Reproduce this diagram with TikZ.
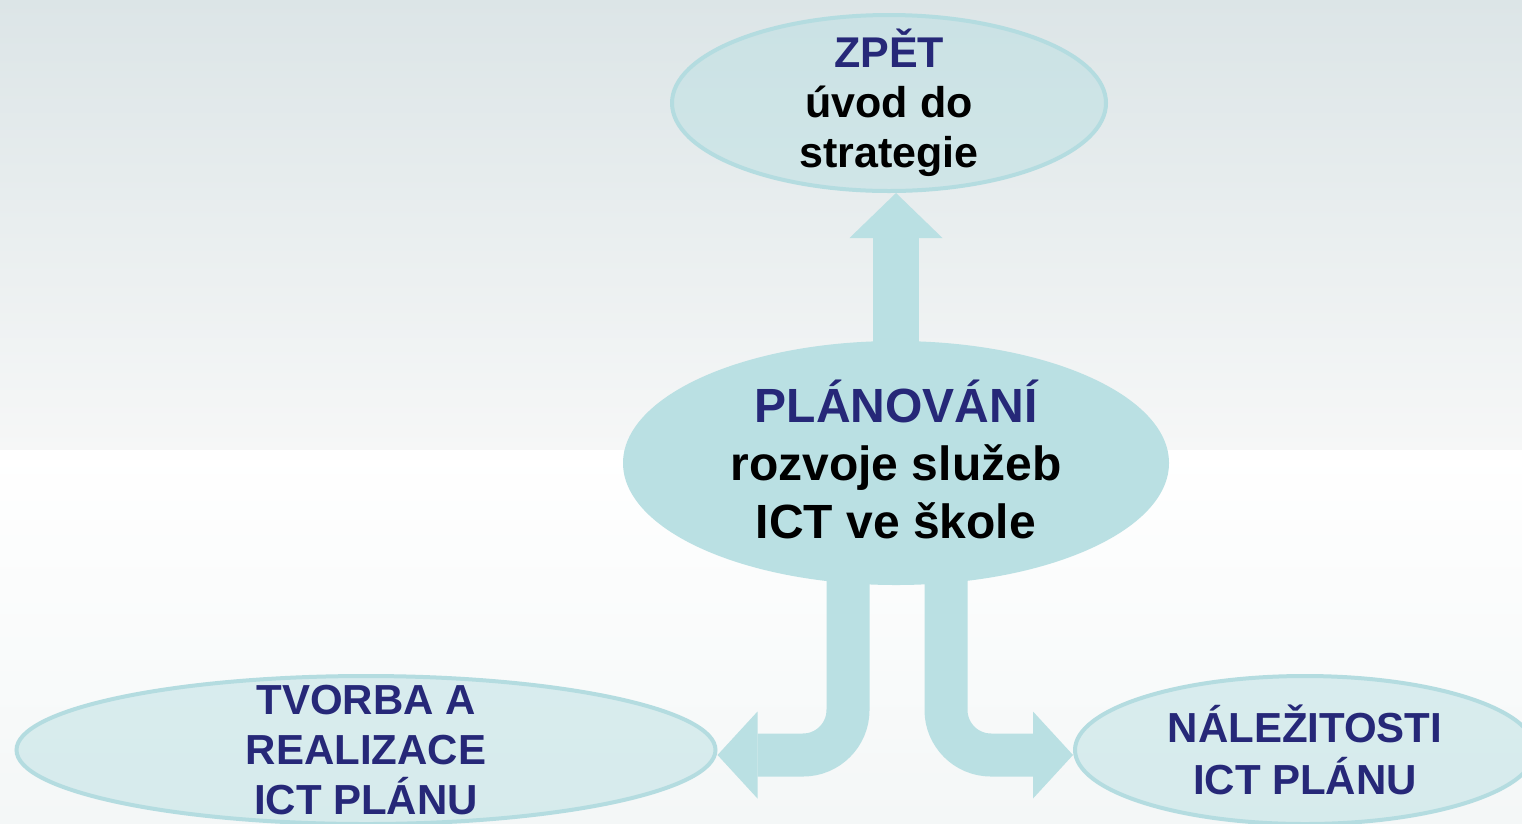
\documentclass[tikz,border=0pt]{standalone}
\usepackage{fontspec}
\setmainfont{Liberation Sans}
\usetikzlibrary{shapes.geometric,arrows.meta,positioning}
\definecolor{tealfill}{HTML}{BAE0E3}
\definecolor{tealline}{HTML}{B4DCE0}
\definecolor{navy}{HTML}{262878}
\definecolor{bgtop}{HTML}{DCE5E7}
\definecolor{bgmid}{HTML}{F6F7F7}
\definecolor{bglow}{HTML}{F4F7F7}
\pgfdeclarelayer{back}
\pgfdeclarelayer{arrows}
\pgfsetlayers{back,arrows,main}
\tikzstyle{centre}=[ellipse, fill=tealfill, minimum width=546pt,
    minimum height=244pt, inner sep=0pt]
\tikzstyle{dotted_oval}=[ellipse, draw=tealline, line width=4pt,
    fill=tealfill, fill opacity=0.5, inner sep=0pt]
\tikzstyle{big_text}=[align=center, font=\fontsize{48}{58}\selectfont\bfseries]
\tikzstyle{small_text}=[align=center, font=\fontsize{43}{50}\selectfont\bfseries]
\tikzstyle{up_arrow}=[draw=tealfill, line width=46pt,
    -{Triangle[width=93pt,length=45pt,line width=0pt]}]
\tikzstyle{bent_arrow}=[draw=tealfill, line width=43pt, rounded corners=45pt,
    -{Triangle[width=87pt,length=40pt,line width=0pt]}]

\begin{document}
\begin{tikzpicture}[x=1pt,y=-1pt]
    \useasboundingbox (0,0) rectangle (1522,823);
    \node (plan) [centre] at (896,463) {};
    \node (plan_txt) [big_text] at ([yshift=4pt]plan.center)
    {\textcolor{navy}{PLÁNOVÁNÍ}\\rozvoje služeb\\ICT ve škole};
    \path (plan.center)+(-7,-360) node (zpet) [dotted_oval,
        minimum width=434pt, minimum height=176pt] {};
    \path (plan.center)+(-530,287) node (tvorba) [dotted_oval,
        minimum width=699pt, minimum height=148pt] {};
    \path (plan.center)+(409,287) node (nalez) [dotted_oval,
        minimum width=460pt, minimum height=148pt] {};
    \node (zpet_txt) [small_text] at (zpet.center)
    {\textcolor{navy}{ZPĚT}\\úvod do\\strategie};
    \node (tvorba_txt) [small_text, text=navy, font=\fontsize{42}{50}\selectfont\bfseries]
    at (tvorba.center) {TVORBA A\\REALIZACE\\ICT PLÁNU};
    \node (nalez_txt) [small_text, text=navy, font=\fontsize{42}{52}\selectfont\bfseries]
    at (nalez.center) {NÁLEŽITOSTI\\ICT PLÁNU};
    \begin{pgfonlayer}{back}
      \fill[top color=bgtop, bottom color=bgmid] (0,0) rectangle (1522,450);
      \fill[top color=white, bottom color=bglow] (0,450) rectangle (1522,823);
    \end{pgfonlayer}
    \begin{pgfonlayer}{arrows}
      \path [up_arrow] ([yshift=-20pt]plan.north) -- (plan.north |- zpet.south);
      \path [bent_arrow] ([xshift=-48pt,yshift=20pt]plan.south) |- ([yshift=-5pt]tvorba.east);
      \path [bent_arrow] ([xshift=50pt,yshift=20pt]plan.south) |- ([yshift=-5pt]nalez.west);
    \end{pgfonlayer}
\end{tikzpicture}
\end{document}
